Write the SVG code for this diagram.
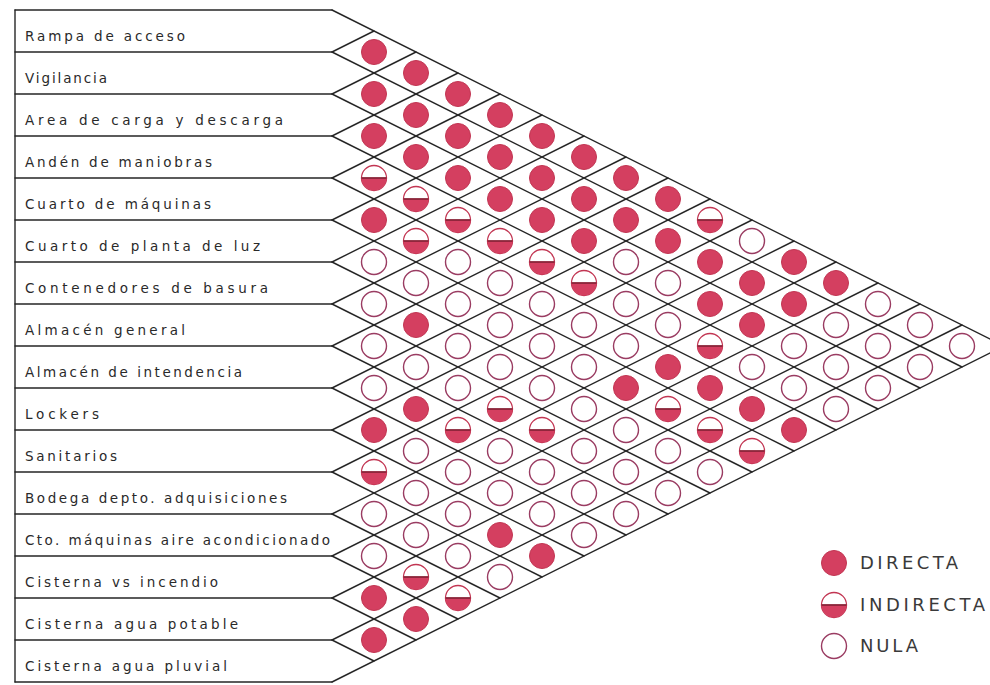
<svg xmlns="http://www.w3.org/2000/svg" width="990" height="685" viewBox="0 0 990 685">
<defs>
<style>
.grid line{stroke:#262626;stroke-width:1.4;stroke-linecap:round}
.lbl{font-family:"DejaVu Sans","Liberation Sans",Arial,sans-serif;font-size:13.5px;fill:#2a2a2a}
.leg{font-family:"DejaVu Sans","Liberation Sans",Arial,sans-serif;font-size:18px;fill:#3a3a3a}
</style>
<circle id="F" r="12.5" fill="#d43f60" stroke="#c23552" stroke-width="1"/>
<g id="I">
<circle r="12.5" fill="#fff" stroke="#c23552" stroke-width="1.3"/>
<path d="M-12.5,0 A12.5,12.5 0 0 0 12.5,0 Z" fill="#d43f60"/>
<line x1="-12.5" y1="0" x2="12.5" y2="0" stroke="#8a2438" stroke-width="1.8"/>
</g>
<circle id="O" r="12.5" fill="#fff" stroke="#9a3c62" stroke-width="1.4"/>
</defs>
<rect width="990" height="685" fill="#fff"/>

<g id="connectors" class="grid">
<line x1="15" y1="10" x2="15" y2="682"/>
<line x1="15" y1="10" x2="332" y2="10"/>
<line x1="15" y1="52" x2="332" y2="52"/>
<line x1="15" y1="94" x2="332" y2="94"/>
<line x1="15" y1="136" x2="332" y2="136"/>
<line x1="15" y1="178" x2="332" y2="178"/>
<line x1="15" y1="220" x2="332" y2="220"/>
<line x1="15" y1="262" x2="332" y2="262"/>
<line x1="15" y1="304" x2="332" y2="304"/>
<line x1="15" y1="346" x2="332" y2="346"/>
<line x1="15" y1="388" x2="332" y2="388"/>
<line x1="15" y1="430" x2="332" y2="430"/>
<line x1="15" y1="472" x2="332" y2="472"/>
<line x1="15" y1="514" x2="332" y2="514"/>
<line x1="15" y1="556" x2="332" y2="556"/>
<line x1="15" y1="598" x2="332" y2="598"/>
<line x1="15" y1="640" x2="332" y2="640"/>
<line x1="15" y1="682" x2="332" y2="682"/>
<line x1="332" y1="10" x2="1004" y2="346"/>
<line x1="332" y1="52" x2="962" y2="367"/>
<line x1="332" y1="94" x2="920" y2="388"/>
<line x1="332" y1="136" x2="878" y2="409"/>
<line x1="332" y1="178" x2="836" y2="430"/>
<line x1="332" y1="220" x2="794" y2="451"/>
<line x1="332" y1="262" x2="752" y2="472"/>
<line x1="332" y1="304" x2="710" y2="493"/>
<line x1="332" y1="346" x2="668" y2="514"/>
<line x1="332" y1="388" x2="626" y2="535"/>
<line x1="332" y1="430" x2="584" y2="556"/>
<line x1="332" y1="472" x2="542" y2="577"/>
<line x1="332" y1="514" x2="500" y2="598"/>
<line x1="332" y1="556" x2="458" y2="619"/>
<line x1="332" y1="598" x2="416" y2="640"/>
<line x1="332" y1="640" x2="374" y2="661"/>
<line x1="332" y1="52" x2="374" y2="31"/>
<line x1="332" y1="94" x2="416" y2="52"/>
<line x1="332" y1="136" x2="458" y2="73"/>
<line x1="332" y1="178" x2="500" y2="94"/>
<line x1="332" y1="220" x2="542" y2="115"/>
<line x1="332" y1="262" x2="584" y2="136"/>
<line x1="332" y1="304" x2="626" y2="157"/>
<line x1="332" y1="346" x2="668" y2="178"/>
<line x1="332" y1="388" x2="710" y2="199"/>
<line x1="332" y1="430" x2="752" y2="220"/>
<line x1="332" y1="472" x2="794" y2="241"/>
<line x1="332" y1="514" x2="836" y2="262"/>
<line x1="332" y1="556" x2="878" y2="283"/>
<line x1="332" y1="598" x2="920" y2="304"/>
<line x1="332" y1="640" x2="962" y2="325"/>
<line x1="332" y1="682" x2="1004" y2="346"/>
</g>

<g id="labels">
<g id="n1"><text class="lbl" x="25" y="41" textLength="160" lengthAdjust="spacing">Rampa de acceso</text></g>
<g id="n2"><text class="lbl" x="25" y="83" textLength="82" lengthAdjust="spacing">Vigilancia</text></g>
<g id="n3"><text class="lbl" x="25" y="125" textLength="258" lengthAdjust="spacing">Area de carga y descarga</text></g>
<g id="n4"><text class="lbl" x="25" y="167" textLength="187" lengthAdjust="spacing">Andén de maniobras</text></g>
<g id="n5"><text class="lbl" x="25" y="209" textLength="186" lengthAdjust="spacing">Cuarto de máquinas</text></g>
<g id="n6"><text class="lbl" x="25" y="251" textLength="235" lengthAdjust="spacing">Cuarto de planta de luz</text></g>
<g id="n7"><text class="lbl" x="25" y="293" textLength="243" lengthAdjust="spacing">Contenedores de basura</text></g>
<g id="n8"><text class="lbl" x="25" y="335" textLength="160" lengthAdjust="spacing">Almacén general</text></g>
<g id="n9"><text class="lbl" x="25" y="377" textLength="217" lengthAdjust="spacing">Almacén de intendencia</text></g>
<g id="n10"><text class="lbl" x="25" y="419" textLength="74" lengthAdjust="spacing">Lockers</text></g>
<g id="n11"><text class="lbl" x="25" y="461" textLength="92" lengthAdjust="spacing">Sanitarios</text></g>
<g id="n12"><text class="lbl" x="25" y="503" textLength="262" lengthAdjust="spacing">Bodega depto. adquisiciones</text></g>
<g id="n13"><text class="lbl" x="25" y="545" textLength="305" lengthAdjust="spacing">Cto. máquinas aire acondicionado</text></g>
<g id="n14"><text class="lbl" x="25" y="587" textLength="193" lengthAdjust="spacing">Cisterna vs incendio</text></g>
<g id="n15"><text class="lbl" x="25" y="629" textLength="213" lengthAdjust="spacing">Cisterna agua potable</text></g>
<g id="n16"><text class="lbl" x="25" y="671" textLength="202" lengthAdjust="spacing">Cisterna agua pluvial</text></g>
</g>

<g id="cells">
<use href="#F" x="374" y="52"/><use href="#F" x="416" y="73"/><use href="#F" x="458" y="94"/><use href="#F" x="500" y="115"/><use href="#F" x="542" y="136"/><use href="#F" x="584" y="157"/><use href="#F" x="626" y="178"/><use href="#F" x="668" y="199"/><use href="#I" x="710" y="220"/><use href="#O" x="752" y="241"/><use href="#F" x="794" y="262"/><use href="#F" x="836" y="283"/><use href="#O" x="878" y="304"/><use href="#O" x="920" y="325"/><use href="#O" x="962" y="346"/>
<use href="#F" x="374" y="94"/><use href="#F" x="416" y="115"/><use href="#F" x="458" y="136"/><use href="#F" x="500" y="157"/><use href="#F" x="542" y="178"/><use href="#F" x="584" y="199"/><use href="#F" x="626" y="220"/><use href="#F" x="668" y="241"/><use href="#F" x="710" y="262"/><use href="#F" x="752" y="283"/><use href="#F" x="794" y="304"/><use href="#O" x="836" y="325"/><use href="#O" x="878" y="346"/><use href="#O" x="920" y="367"/>
<use href="#F" x="374" y="136"/><use href="#F" x="416" y="157"/><use href="#F" x="458" y="178"/><use href="#F" x="500" y="199"/><use href="#F" x="542" y="220"/><use href="#F" x="584" y="241"/><use href="#O" x="626" y="262"/><use href="#O" x="668" y="283"/><use href="#F" x="710" y="304"/><use href="#F" x="752" y="325"/><use href="#O" x="794" y="346"/><use href="#O" x="836" y="367"/><use href="#O" x="878" y="388"/>
<use href="#I" x="374" y="178"/><use href="#I" x="416" y="199"/><use href="#I" x="458" y="220"/><use href="#I" x="500" y="241"/><use href="#I" x="542" y="262"/><use href="#I" x="584" y="283"/><use href="#O" x="626" y="304"/><use href="#O" x="668" y="325"/><use href="#I" x="710" y="346"/><use href="#O" x="752" y="367"/><use href="#O" x="794" y="388"/><use href="#O" x="836" y="409"/>
<use href="#F" x="374" y="220"/><use href="#I" x="416" y="241"/><use href="#O" x="458" y="262"/><use href="#O" x="500" y="283"/><use href="#O" x="542" y="304"/><use href="#O" x="584" y="325"/><use href="#O" x="626" y="346"/><use href="#F" x="668" y="367"/><use href="#F" x="710" y="388"/><use href="#F" x="752" y="409"/><use href="#F" x="794" y="430"/>
<use href="#O" x="374" y="262"/><use href="#O" x="416" y="283"/><use href="#O" x="458" y="304"/><use href="#O" x="500" y="325"/><use href="#O" x="542" y="346"/><use href="#O" x="584" y="367"/><use href="#F" x="626" y="388"/><use href="#I" x="668" y="409"/><use href="#I" x="710" y="430"/><use href="#I" x="752" y="451"/>
<use href="#O" x="374" y="304"/><use href="#F" x="416" y="325"/><use href="#O" x="458" y="346"/><use href="#O" x="500" y="367"/><use href="#O" x="542" y="388"/><use href="#O" x="584" y="409"/><use href="#O" x="626" y="430"/><use href="#O" x="668" y="451"/><use href="#O" x="710" y="472"/>
<use href="#O" x="374" y="346"/><use href="#O" x="416" y="367"/><use href="#O" x="458" y="388"/><use href="#I" x="500" y="409"/><use href="#I" x="542" y="430"/><use href="#O" x="584" y="451"/><use href="#O" x="626" y="472"/><use href="#O" x="668" y="493"/>
<use href="#O" x="374" y="388"/><use href="#F" x="416" y="409"/><use href="#I" x="458" y="430"/><use href="#O" x="500" y="451"/><use href="#O" x="542" y="472"/><use href="#O" x="584" y="493"/><use href="#O" x="626" y="514"/>
<use href="#F" x="374" y="430"/><use href="#O" x="416" y="451"/><use href="#O" x="458" y="472"/><use href="#O" x="500" y="493"/><use href="#O" x="542" y="514"/><use href="#O" x="584" y="535"/>
<use href="#I" x="374" y="472"/><use href="#O" x="416" y="493"/><use href="#O" x="458" y="514"/><use href="#F" x="500" y="535"/><use href="#F" x="542" y="556"/>
<use href="#O" x="374" y="514"/><use href="#O" x="416" y="535"/><use href="#O" x="458" y="556"/><use href="#O" x="500" y="577"/>
<use href="#O" x="374" y="556"/><use href="#I" x="416" y="577"/><use href="#I" x="458" y="598"/>
<use href="#F" x="374" y="598"/><use href="#F" x="416" y="619"/>
<use href="#F" x="374" y="640"/>
</g>

<g id="legend">
<g id="leg-directa"><use href="#F" x="834" y="563"/><text class="leg" x="860" y="569" textLength="98" lengthAdjust="spacing">DIRECTA</text></g>
<g id="leg-indirecta"><use href="#I" x="834" y="605"/><text class="leg" x="860" y="611" textLength="125" lengthAdjust="spacing">INDIRECTA</text></g>
<g id="leg-nula"><use href="#O" x="834" y="646"/><text class="leg" x="860" y="652" textLength="58" lengthAdjust="spacing">NULA</text></g>
</g>
</svg>
